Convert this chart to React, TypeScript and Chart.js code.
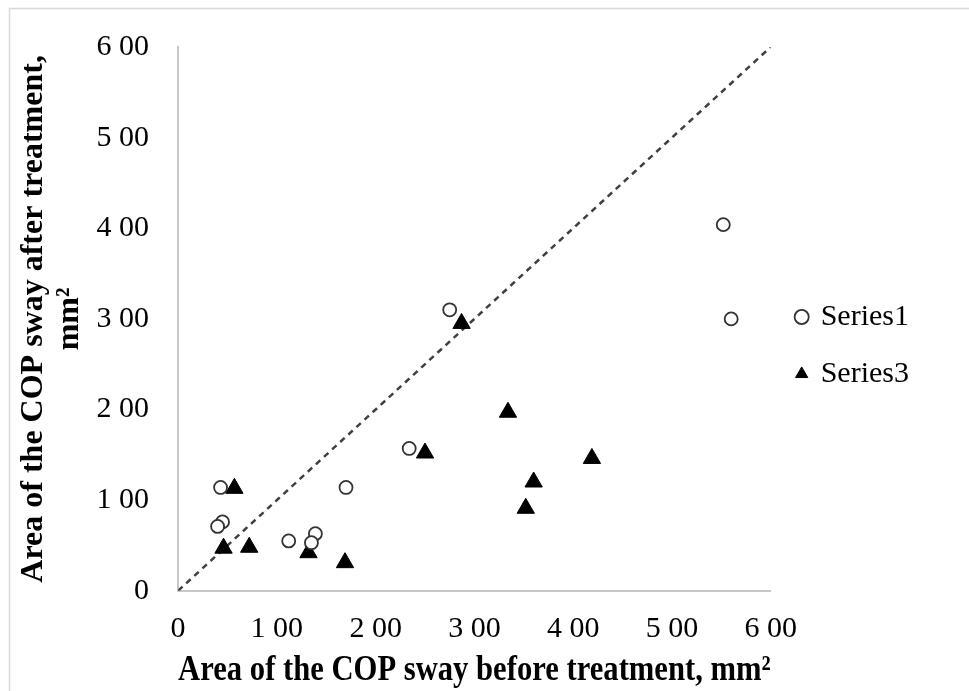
import React, { useEffect, useRef } from "react";
import { Chart, registerables } from "chart.js";

Chart.register(...registerables);

const xTickLabels = ["0", "1 00", "2 00", "3 00", "4 00", "5 00", "6 00"];
const yTickLabels = ["0", "1 00", "2 00", "3 00", "4 00", "5 00", "6 00"];

const series1X = [43, 45, 40, 112, 139, 135, 170, 234, 275, 552, 560];
const series1Y = [114, 76, 71, 55, 63, 53, 114, 157, 310, 404, 300];

const series3X = [57, 46, 72, 132, 169, 250, 287, 334, 419, 360, 352];
const series3Y = [113, 47, 48, 42, 31, 152, 295, 197, 146, 120, 91];

const diagonalX = [0, 600];
const diagonalY = [0, 600];

const xTitle = "Area of the COP sway before treatment, mm²";
const yTitle = ["Area of the COP sway after treatment,", "mm²"];

const FONT = "'Liberation Serif', 'Times New Roman', serif";

const borderPlugin = {
  id: "outerBorder",
  beforeDraw(chart: any) {
    const ctx = chart.ctx;
    ctx.save();
    ctx.strokeStyle = "#d9d9d9";
    ctx.lineWidth = 1.5;
    ctx.beginPath();
    ctx.moveTo(9.5, chart.height);
    ctx.lineTo(9.5, 8.5);
    ctx.lineTo(chart.width, 8.5);
    ctx.stroke();
    ctx.restore();
  },
};

export default function App() {
  const ref = useRef<HTMLCanvasElement | null>(null);

  useEffect(() => {
    if (!ref.current) return;
    const toPts = (xs: number[], ys: number[]) => xs.map((x, i) => ({ x, y: ys[i] }));
    const chart = new Chart(ref.current, {
      type: "scatter",
      data: {
        datasets: [
          {
            label: "Series1",
            data: toPts(series1X, series1Y),
            pointStyle: "circle",
            pointRadius: 6.5,
            pointBorderWidth: 1.8,
            borderColor: "#333333",
            backgroundColor: "#ffffff",
            pointBackgroundColor: "#ffffff",
            pointBorderColor: "#333333",
          },
          {
            label: "Series3",
            data: toPts(series3X, series3Y),
            pointStyle: "triangle",
            pointRadius: 10,
            pointBorderWidth: 1,
            borderColor: "#000000",
            backgroundColor: "#000000",
            pointBackgroundColor: "#000000",
            pointBorderColor: "#000000",
          },
          {
            label: "diag",
            type: "line",
            data: toPts(diagonalX, diagonalY),
            showLine: true,
            pointRadius: 0,
            borderColor: "#404040",
            borderWidth: 2.5,
            borderDash: [6, 5],
            fill: false,
          } as any,
        ],
      },
      options: {
        animation: false,
        responsive: true,
        maintainAspectRatio: false,
        layout: { padding: { top: 36, right: 50, bottom: 0, left: 15 } },
        plugins: {
          tooltip: { enabled: false },
          legend: {
            position: "right",
            title: { display: true, text: "", font: { size: 10 }, padding: { top: -48, bottom: 0 } },
            labels: {
              filter: (item: any) => item.text !== "diag",
              usePointStyle: true,
              boxWidth: 8,
              boxHeight: 10,
              padding: 27,
              color: "#000000",
              font: { family: FONT, size: 30 },
            },
          },
        },
        scales: {
          x: {
            type: "linear",
            min: 0,
            max: 600,
            grid: { display: false, drawTicks: false },
            border: { display: true, color: "#c8c8c8", width: 2 },
            ticks: {
              stepSize: 100,
              padding: 20,
              color: "#000000",
              font: { family: FONT, size: 30 },
              maxRotation: 0,
              callback: (v: any) => xTickLabels[Math.round(Number(v) / 100)],
            },
            title: {
              display: true,
              text: xTitle,
              color: "#000000",
              font: { family: FONT, size: 35, weight: "bold", lineHeight: 1.15 },
              padding: { top: -16, bottom: 0 },
            },
          },
          y: {
            type: "linear",
            min: 0,
            max: 600,
            grid: { display: false, drawTicks: false },
            border: { display: true, color: "#c8c8c8", width: 2 },
            ticks: {
              stepSize: 100,
              padding: 29,
              color: "#000000",
              font: { family: FONT, size: 30 },
              callback: (v: any) => yTickLabels[Math.round(Number(v) / 100)],
            },
            title: {
              display: true,
              text: yTitle,
              color: "#000000",
              font: { family: FONT, size: 32, weight: "bold", lineHeight: 1.15 },
              padding: { top: 0, bottom: -21 },
            },
          },
        },
      },
      plugins: [borderPlugin],
    });
    return () => chart.destroy();
  }, []);

  return (
    <div style={{ position: "fixed", left: 0, top: 0, width: 969, height: 691, background: "#ffffff" }}>
      <canvas ref={ref} />
    </div>
  );
}
